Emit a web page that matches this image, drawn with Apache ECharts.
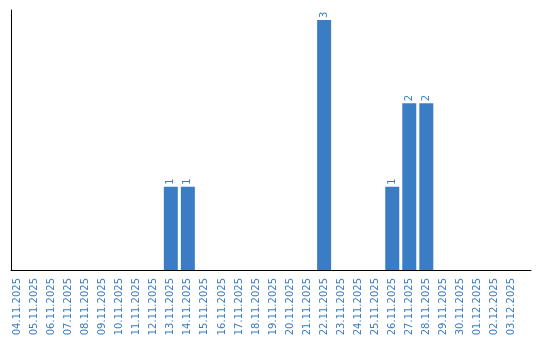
<!DOCTYPE html>
<html><head><meta charset="utf-8">
<script src="https://cdn.jsdelivr.net/npm/echarts@6/dist/echarts.min.js"></script>
<style>html,body{margin:0;padding:0;background:#fff}#c{width:540px;height:340px}</style>
</head><body><div id="c"></div>
<script>
const categories = ["04.11.2025","05.11.2025","06.11.2025","07.11.2025","08.11.2025","09.11.2025","10.11.2025","11.11.2025","12.11.2025","13.11.2025","14.11.2025","15.11.2025","16.11.2025","17.11.2025","18.11.2025","19.11.2025","20.11.2025","21.11.2025","22.11.2025","23.11.2025","24.11.2025","25.11.2025","26.11.2025","27.11.2025","28.11.2025","29.11.2025","30.11.2025","01.12.2025","02.12.2025","03.12.2025"];
const values = [0,0,0,0,0,0,0,0,0,1,1,0,0,0,0,0,0,0,3,0,0,0,1,2,2,0,0,0,0,0];
const blue = '#3b7dc4';
const chart = echarts.init(document.getElementById('c'), null, {renderer:'canvas'});
chart.setOption({
  animation:false,
  grid:[{left:9,right:20,top:10,bottom:70},{left:11,right:9,top:10,bottom:70}],
  xAxis:[{type:'category',data:categories,gridIndex:0,
    axisLine:{show:false},
    axisTick:{show:false},
    axisLabel:{interval:0,rotate:90,color:blue,fontFamily:'DejaVu Sans',fontSize:10,margin:8}},
    {type:'value',gridIndex:1,min:0,max:1,axisLine:{show:true,onZero:false,lineStyle:{color:'#000',width:1}},
     axisTick:{show:false},axisLabel:{show:false},splitLine:{show:false}}],
  yAxis:[{type:'value',min:0,max:3.12,gridIndex:0,
    axisLine:{show:false},
    axisTick:{show:false},axisLabel:{show:false},splitLine:{show:false}},
    {type:'value',gridIndex:1,min:0,max:1,axisLine:{show:true,onZero:false,lineStyle:{color:'#000',width:1}},
     axisTick:{show:false},axisLabel:{show:false},splitLine:{show:false}}],
  series:[{type:'bar',data:values.map(v=>v===0?null:v),barWidth:14,
    itemStyle:{color:blue},
    label:{show:true,position:'top',rotate:90,align:'left',verticalAlign:'middle',distance:2,
      color:blue,fontFamily:'DejaVu Sans',fontSize:10}}]
});
</script></body></html>
